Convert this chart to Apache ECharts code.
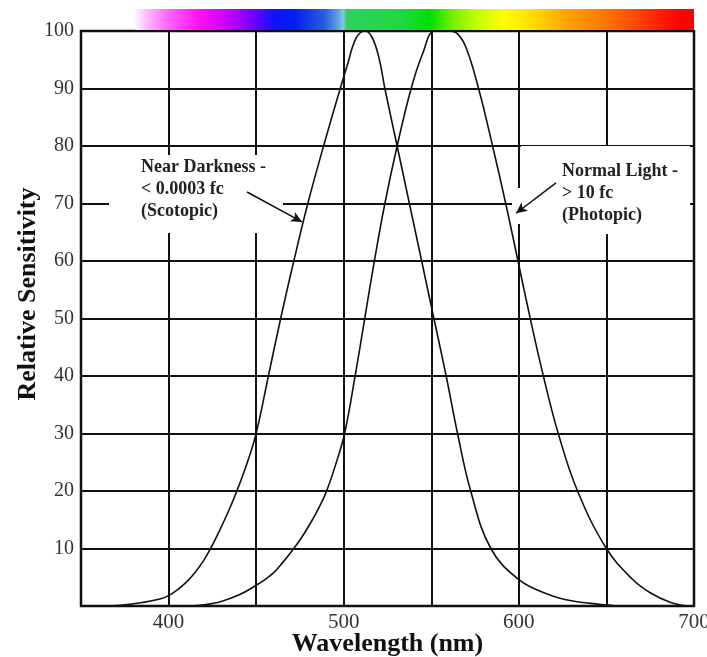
<!DOCTYPE html>
<html>
<head>
<meta charset="utf-8">
<script src="https://cdn.jsdelivr.net/npm/echarts@6/dist/echarts.min.js"></script>
<style>html,body{margin:0;padding:0;background:#fff}#c{width:707px;height:657px}</style>
</head>
<body>
<div id="c"></div>
<script>
// ---- data ----
const scotopicX = [365,375,385,395,400,405,410,415,420,424,428,432,435.5,439,445,450,457,464,471.5,479.5,488.5,498,502,507,512,516,520,523.5,530.5,537.5,544.5,551.5,558.5,565,572.5,584,600,617,630,646,657];
const scotopicY = [0,0.2,0.6,1.2,1.8,2.8,4.1,5.8,7.9,10,12.4,15,17.4,20,25,30,40,50,60,70,80,90,94,98.7,100,99,95.5,90,80,70,60,50,40,30,20,10,4.6,2,0.9,0.3,0];
const photopicX = [412,420,430,440,450,455,460,465,471.5,477,482.5,486,490,495.5,500.5,506.5,512,517.5,523.5,530.5,538.5,545,552,560,565,570,577,585,592.5,599.5,606.5,614,622.5,633.5,650,665,675,686,696];
const photopicY = [0,0.2,0.8,1.9,3.6,4.6,5.8,7.5,10,12.4,15.2,17.2,19.8,24.7,30,40,50,60,70,80,90,96,100,100,99.5,97,90,80,70,60,50,40,30,20,10,4.6,2.3,0.7,0];
const xTickLabels = [400,500,600,700];
const spectrumRange = [381,700];
const scotopicText = 'Near Darkness -\n< 0.0003 fc\n(Scotopic)';
const photopicText = 'Normal Light -\n> 10 fc\n(Photopic)';
const scotopicArrow = [[444.8,72.0],[476.2,66.8]];
const photopicArrow = [[621.2,73.6],[598.4,68.3]];

const FONT = '"Liberation Serif","Times New Roman",serif';
const zip = (xs, ys) => xs.map((x, i) => [x, ys[i]]);

const chart = echarts.init(document.getElementById('c'));
const arrowLine = (pts) => ({
  silent: true, symbol: ['none', 'arrow'], symbolSize: [8, 11],
  lineStyle: { color: '#111', width: 1.5, type: 'solid' },
  label: { show: false },
  data: [[{ coord: pts[0] }, { coord: pts[1] }]]
});

chart.setOption({
  animation: false,
  backgroundColor: '#fff',
  grid: [
    { left: 81, right: 13, top: 31, bottom: 51, show: true, borderColor: '#111', borderWidth: 2.5, containLabel: false, outerBoundsMode: 'none' },
    { left: 81, right: 13, top: 9, height: 21, show: false, outerBoundsMode: 'none' }
  ],
  xAxis: [
    {
      type: 'value', min: 350, max: 700, interval: 50, gridIndex: 0,
      name: 'Wavelength (nm)', nameLocation: 'middle', nameGap: 25, nameMoveOverlap: false,
      nameTextStyle: { fontFamily: FONT, fontWeight: 'bold', fontSize: 26, color: '#111' },
      axisLine: { show: false }, axisTick: { show: false },
      axisLabel: {
        margin: 6, fontFamily: FONT, fontSize: 21, color: '#333',
        formatter: v => xTickLabels.includes(v) ? String(v) : ''
      },
      splitLine: { show: true, lineStyle: { color: '#111', width: 2 } }
    },
    { type: 'value', min: 350, max: 700, gridIndex: 1, show: false }
  ],
  yAxis: [
    {
      type: 'value', min: 0, max: 100, interval: 10, gridIndex: 0,
      name: 'Relative Sensitivity', nameLocation: 'middle', nameGap: 40, nameRotate: 90, nameMoveOverlap: false,
      nameTextStyle: { fontFamily: FONT, fontWeight: 'bold', fontSize: 26, color: '#111', padding: [0, 0, 0, 49] },
      axisLine: { show: false }, axisTick: { show: false },
      axisLabel: {
        margin: 7, fontFamily: FONT, fontSize: 20, color: '#333',
        formatter: v => v === 0 ? '' : String(v)
      },
      splitLine: { show: true, lineStyle: { color: '#111', width: 2 } }
    },
    { type: 'value', min: 0, max: 1, gridIndex: 1, show: false }
  ],
  graphic: [
    { type: 'rect', z: 1, shape: { x: 109, y: 155, width: 174, height: 78 }, style: { fill: '#fff' } },
    { type: 'rect', z: 1, shape: { x: 521, y: 146, width: 169, height: 88 }, style: { fill: '#fff' } },
    { type: 'rect', z: 1, shape: { x: 512, y: 188, width: 12, height: 36 }, style: { fill: '#fff' } },
    { type: 'text', z: 5, style: { text: scotopicText, x: 141, y: 156, fill: '#222', fontFamily: FONT, fontWeight: 'bold', fontSize: 18, lineHeight: 22, verticalAlign: 'top', align: 'left' } },
    { type: 'text', z: 5, style: { text: photopicText, x: 562, y: 160, fill: '#222', fontFamily: FONT, fontWeight: 'bold', fontSize: 18, lineHeight: 22, verticalAlign: 'top', align: 'left' } }
  ],
  series: [
    {
      type: 'custom', xAxisIndex: 1, yAxisIndex: 1, silent: true,
      data: [spectrumRange],
      encode: { x: [0, 1] },
      renderItem: (params, api) => {
        const a = api.coord([api.value(0), 1]);
        const b = api.coord([api.value(1), 0]);
        return {
          type: 'rect',
          shape: { x: a[0], y: a[1], width: b[0] - a[0], height: b[1] - a[1] },
          style: {
            fill: new echarts.graphic.LinearGradient(0, 0, 1, 0, [
              { offset: 0, color: '#fff4ff' },
              { offset: 0.025, color: '#ffb0ff' },
              { offset: 0.061, color: '#ff60ff' },
              { offset: 0.115, color: '#ff10f0' },
              { offset: 0.16, color: '#d000ff' },
              { offset: 0.204, color: '#8000ff' },
              { offset: 0.249, color: '#1010ff' },
              { offset: 0.285, color: '#0020f0' },
              { offset: 0.339, color: '#2a5ce0' },
              { offset: 0.362, color: '#5aa0e0' },
              { offset: 0.373, color: '#80c8e0' },
              { offset: 0.378, color: '#30d060' },
              { offset: 0.473, color: '#20d840' },
              { offset: 0.527, color: '#00e000' },
              { offset: 0.572, color: '#80f000' },
              { offset: 0.616, color: '#c8ff00' },
              { offset: 0.661, color: '#ffff00' },
              { offset: 0.706, color: '#ffe000' },
              { offset: 0.778, color: '#ffa000' },
              { offset: 0.85, color: '#ff7000' },
              { offset: 0.921, color: '#ff3000' },
              { offset: 0.975, color: '#ff0000' },
              { offset: 1, color: '#ff0000' }
            ])
          }
        };
      }
    },
    {
      name: 'Scotopic', type: 'line', xAxisIndex: 0, yAxisIndex: 0, z: 3,
      data: zip(scotopicX, scotopicY), smooth: 0.4, symbol: 'none', clip: false,
      lineStyle: { color: '#111', width: 1.6 },
      markLine: arrowLine(scotopicArrow)
    },
    {
      name: 'Photopic', type: 'line', xAxisIndex: 0, yAxisIndex: 0, z: 3,
      data: zip(photopicX, photopicY), smooth: 0.4, symbol: 'none', clip: false,
      lineStyle: { color: '#111', width: 1.6 },
      markLine: arrowLine(photopicArrow)
    }
  ]
});
</script>
</body>
</html>
